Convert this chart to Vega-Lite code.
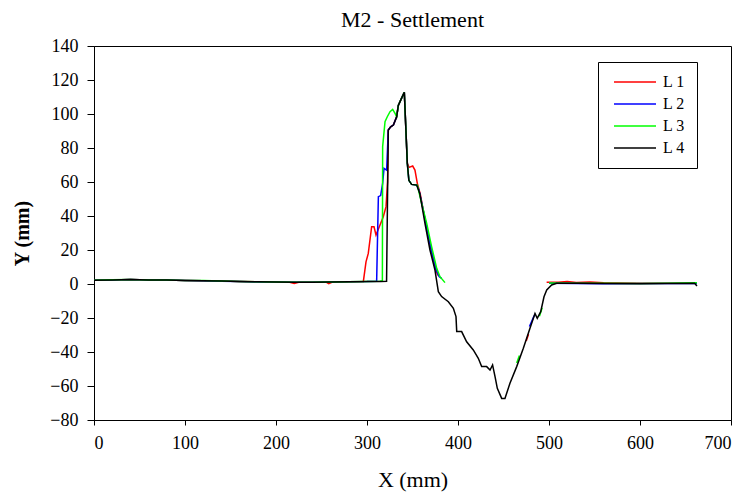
{
  "$schema": "https://vega.github.io/schema/vega-lite/v6.json",
  "autosize": "none",
  "width": 637,
  "height": 374,
  "padding": {"left": 94, "top": 46, "right": 17, "bottom": 73},
  "background": "white",
  "title": {"text": "M2 - Settlement", "font": "Liberation Serif", "fontSize": 22, "fontWeight": "normal", "color": "black", "anchor": "middle", "offset": 5},
  "config": {
    "view": {"stroke": "black", "strokeWidth": 1},
    "axis": {"labelFont": "Liberation Serif", "labelFontSize": 18, "labelColor": "black", "titleFont": "Liberation Serif", "titleColor": "black", "domainColor": "black", "tickColor": "black", "grid": false},
    "legend": {"labelFont": "Liberation Serif", "labelFontSize": 16, "labelColor": "black"}
  },
  "data": {"values": [
    {"s":"L 1","g":"L1a","x":0,"y":2.2},{"s":"L 1","g":"L1a","x":20,"y":2.4},{"s":"L 1","g":"L1a","x":40,"y":2.6},{"s":"L 1","g":"L1a","x":60,"y":2.4},{"s":"L 1","g":"L1a","x":80,"y":2.3},{"s":"L 1","g":"L1a","x":100,"y":2.1},{"s":"L 1","g":"L1a","x":120,"y":1.9},{"s":"L 1","g":"L1a","x":140,"y":1.7},{"s":"L 1","g":"L1a","x":160,"y":1.5},{"s":"L 1","g":"L1a","x":180,"y":1.3},{"s":"L 1","g":"L1a","x":200,"y":1.2},{"s":"L 1","g":"L1a","x":215,"y":1.0},{"s":"L 1","g":"L1a","x":220,"y":0.3},{"s":"L 1","g":"L1a","x":225,"y":1.0},{"s":"L 1","g":"L1a","x":240,"y":1.1},{"s":"L 1","g":"L1a","x":255,"y":1.1},{"s":"L 1","g":"L1a","x":258,"y":0.2},{"s":"L 1","g":"L1a","x":262,"y":1.1},{"s":"L 1","g":"L1a","x":280,"y":1.3},{"s":"L 1","g":"L1a","x":296,"y":1.5},{"s":"L 1","g":"L1a","x":298.9,"y":13},{"s":"L 1","g":"L1a","x":301.4,"y":18},{"s":"L 1","g":"L1a","x":305.1,"y":33.7},{"s":"L 1","g":"L1a","x":307.7,"y":33.7},{"s":"L 1","g":"L1a","x":309.9,"y":28.8},{"s":"L 1","g":"L1a","x":314.3,"y":34.7},{"s":"L 1","g":"L1a","x":317.9,"y":39.6},{"s":"L 1","g":"L1a","x":320.9,"y":45.5},{"s":"L 1","g":"L1a","x":322.6,"y":60},{"s":"L 1","g":"L1a","x":323.4,"y":90.6},{"s":"L 1","g":"L1a","x":326,"y":92.5},{"s":"L 1","g":"L1a","x":329,"y":93.5},{"s":"L 1","g":"L1a","x":332.6,"y":98.4},{"s":"L 1","g":"L1a","x":334.4,"y":105},{"s":"L 1","g":"L1a","x":337.4,"y":108.6},{"s":"L 1","g":"L1a","x":341,"y":112.8},{"s":"L 1","g":"L1a","x":344.3,"y":71},{"s":"L 1","g":"L1a","x":346.2,"y":68.6},{"s":"L 1","g":"L1a","x":350.2,"y":69.4},{"s":"L 1","g":"L1a","x":352.7,"y":67},{"s":"L 1","g":"L1a","x":355.3,"y":59.2},{"s":"L 1","g":"L1a","x":358.5,"y":53},{"s":"L 1","g":"L1a","x":364.5,"y":35.7},{"s":"L 1","g":"L1a","x":370,"y":21},{"s":"L 1","g":"L1a","x":375.5,"y":8.5},{"s":"L 1","g":"L1a","x":378,"y":5},
    {"s":"L 1","g":"L1b","x":475,"y":-33.5},{"s":"L 1","g":"L1b","x":477.5,"y":-29.5},
    {"s":"L 1","g":"L1c","x":497.4,"y":1.0},{"s":"L 1","g":"L1c","x":510,"y":1.1},{"s":"L 1","g":"L1c","x":520,"y":1.4},{"s":"L 1","g":"L1c","x":530,"y":0.9},{"s":"L 1","g":"L1c","x":545,"y":1.2},{"s":"L 1","g":"L1c","x":560,"y":0.8},{"s":"L 1","g":"L1c","x":575,"y":0.6},{"s":"L 1","g":"L1c","x":600,"y":0.4},{"s":"L 1","g":"L1c","x":630,"y":0.4},{"s":"L 1","g":"L1c","x":662.6,"y":0.5},

    {"s":"L 2","g":"L2a","x":0,"y":2.2},{"s":"L 2","g":"L2a","x":20,"y":2.4},{"s":"L 2","g":"L2a","x":40,"y":2.6},{"s":"L 2","g":"L2a","x":60,"y":2.4},{"s":"L 2","g":"L2a","x":80,"y":2.3},{"s":"L 2","g":"L2a","x":100,"y":2.1},{"s":"L 2","g":"L2a","x":120,"y":1.9},{"s":"L 2","g":"L2a","x":140,"y":1.6},{"s":"L 2","g":"L2a","x":160,"y":1.5},{"s":"L 2","g":"L2a","x":180,"y":1.2},{"s":"L 2","g":"L2a","x":200,"y":1.2},{"s":"L 2","g":"L2a","x":220,"y":1.0},{"s":"L 2","g":"L2a","x":240,"y":1.1},{"s":"L 2","g":"L2a","x":260,"y":1.2},{"s":"L 2","g":"L2a","x":280,"y":1.3},{"s":"L 2","g":"L2a","x":300,"y":1.4},{"s":"L 2","g":"L2a","x":310.6,"y":1.6},{"s":"L 2","g":"L2a","x":312.5,"y":51.4},{"s":"L 2","g":"L2a","x":315,"y":52},{"s":"L 2","g":"L2a","x":317.2,"y":59.2},{"s":"L 2","g":"L2a","x":318.7,"y":68},{"s":"L 2","g":"L2a","x":321.6,"y":67},{"s":"L 2","g":"L2a","x":323.4,"y":90.6},{"s":"L 2","g":"L2a","x":326,"y":92.5},{"s":"L 2","g":"L2a","x":329,"y":93.5},{"s":"L 2","g":"L2a","x":332.6,"y":98.4},{"s":"L 2","g":"L2a","x":334.4,"y":105},{"s":"L 2","g":"L2a","x":337.4,"y":108.6},{"s":"L 2","g":"L2a","x":341,"y":112.8},{"s":"L 2","g":"L2a","x":344.3,"y":71},{"s":"L 2","g":"L2a","x":346,"y":61},{"s":"L 2","g":"L2a","x":349,"y":58.6},{"s":"L 2","g":"L2a","x":354.6,"y":58.2},{"s":"L 2","g":"L2a","x":357,"y":55.5},{"s":"L 2","g":"L2a","x":359.5,"y":49.5},{"s":"L 2","g":"L2a","x":364.8,"y":35.7},{"s":"L 2","g":"L2a","x":370.2,"y":21},{"s":"L 2","g":"L2a","x":375.8,"y":8.6},{"s":"L 2","g":"L2a","x":379.2,"y":4.4},{"s":"L 2","g":"L2a","x":382,"y":3.3},
    {"s":"L 2","g":"L2b","x":478.5,"y":-25},{"s":"L 2","g":"L2b","x":481,"y":-22},{"s":"L 2","g":"L2b","x":483,"y":-19.5},{"s":"L 2","g":"L2b","x":485,"y":-17.5},
    {"s":"L 2","g":"L2c","x":500,"y":0.5},{"s":"L 2","g":"L2c","x":530,"y":0.3},{"s":"L 2","g":"L2c","x":560,"y":0.2},{"s":"L 2","g":"L2c","x":600,"y":0.3},{"s":"L 2","g":"L2c","x":662.6,"y":0.3},

    {"s":"L 3","g":"L3a","x":0,"y":2.2},{"s":"L 3","g":"L3a","x":20,"y":2.5},{"s":"L 3","g":"L3a","x":40,"y":2.6},{"s":"L 3","g":"L3a","x":60,"y":2.4},{"s":"L 3","g":"L3a","x":80,"y":2.3},{"s":"L 3","g":"L3a","x":100,"y":2.1},{"s":"L 3","g":"L3a","x":120,"y":2.0},{"s":"L 3","g":"L3a","x":140,"y":1.7},{"s":"L 3","g":"L3a","x":160,"y":1.5},{"s":"L 3","g":"L3a","x":180,"y":1.3},{"s":"L 3","g":"L3a","x":200,"y":1.2},{"s":"L 3","g":"L3a","x":220,"y":1.0},{"s":"L 3","g":"L3a","x":240,"y":1.1},{"s":"L 3","g":"L3a","x":260,"y":1.2},{"s":"L 3","g":"L3a","x":280,"y":1.3},{"s":"L 3","g":"L3a","x":300,"y":1.4},{"s":"L 3","g":"L3a","x":314.3,"y":1.6},{"s":"L 3","g":"L3a","x":316.9,"y":2},{"s":"L 3","g":"L3a","x":317.2,"y":80.8},{"s":"L 3","g":"L3a","x":319.8,"y":95.5},{"s":"L 3","g":"L3a","x":322.3,"y":98.4},{"s":"L 3","g":"L3a","x":325.3,"y":101.4},{"s":"L 3","g":"L3a","x":328.2,"y":102.7},{"s":"L 3","g":"L3a","x":330.8,"y":100.4},{"s":"L 3","g":"L3a","x":332.6,"y":98.4},{"s":"L 3","g":"L3a","x":334.4,"y":105},{"s":"L 3","g":"L3a","x":337.4,"y":108.6},{"s":"L 3","g":"L3a","x":341,"y":112.8},{"s":"L 3","g":"L3a","x":344.3,"y":71},{"s":"L 3","g":"L3a","x":346,"y":61},{"s":"L 3","g":"L3a","x":349,"y":58.6},{"s":"L 3","g":"L3a","x":355.3,"y":58.2},{"s":"L 3","g":"L3a","x":360,"y":47.5},{"s":"L 3","g":"L3a","x":365.6,"y":35.7},{"s":"L 3","g":"L3a","x":371,"y":22},{"s":"L 3","g":"L3a","x":376.6,"y":9.2},{"s":"L 3","g":"L3a","x":380.2,"y":4.3},{"s":"L 3","g":"L3a","x":385.7,"y":0.8},
    {"s":"L 3","g":"L3b","x":464.5,"y":-46.5},{"s":"L 3","g":"L3b","x":467.5,"y":-42},
    {"s":"L 3","g":"L3c","x":489.5,"y":-19},{"s":"L 3","g":"L3c","x":492.5,"y":-14},
    {"s":"L 3","g":"L3d","x":500,"y":0.6},{"s":"L 3","g":"L3d","x":530,"y":0.5},{"s":"L 3","g":"L3d","x":560,"y":0.4},{"s":"L 3","g":"L3d","x":600,"y":0.3},{"s":"L 3","g":"L3d","x":630,"y":0.4},{"s":"L 3","g":"L3d","x":662.6,"y":0.8},

    {"s":"L 4","g":"L4a","x":0,"y":2.2},{"s":"L 4","g":"L4a","x":20,"y":2.4},{"s":"L 4","g":"L4a","x":40,"y":2.6},{"s":"L 4","g":"L4a","x":60,"y":2.4},{"s":"L 4","g":"L4a","x":80,"y":2.3},{"s":"L 4","g":"L4a","x":100,"y":2.1},{"s":"L 4","g":"L4a","x":120,"y":1.9},{"s":"L 4","g":"L4a","x":140,"y":1.7},{"s":"L 4","g":"L4a","x":160,"y":1.5},{"s":"L 4","g":"L4a","x":180,"y":1.3},{"s":"L 4","g":"L4a","x":200,"y":1.2},{"s":"L 4","g":"L4a","x":220,"y":1.0},{"s":"L 4","g":"L4a","x":240,"y":1.1},{"s":"L 4","g":"L4a","x":260,"y":1.2},{"s":"L 4","g":"L4a","x":280,"y":1.3},{"s":"L 4","g":"L4a","x":300,"y":1.4},{"s":"L 4","g":"L4a","x":315,"y":1.5},{"s":"L 4","g":"L4a","x":321.5,"y":1.6},{"s":"L 4","g":"L4a","x":323.4,"y":90.6},{"s":"L 4","g":"L4a","x":326,"y":92.5},{"s":"L 4","g":"L4a","x":329,"y":93.5},{"s":"L 4","g":"L4a","x":332.6,"y":98.4},{"s":"L 4","g":"L4a","x":334.4,"y":105},{"s":"L 4","g":"L4a","x":337.4,"y":108.6},{"s":"L 4","g":"L4a","x":341,"y":112.8},{"s":"L 4","g":"L4a","x":344.3,"y":71},{"s":"L 4","g":"L4a","x":346,"y":61},{"s":"L 4","g":"L4a","x":349,"y":58.6},{"s":"L 4","g":"L4a","x":354.6,"y":58.2},{"s":"L 4","g":"L4a","x":358,"y":53.3},{"s":"L 4","g":"L4a","x":363.7,"y":35.7},{"s":"L 4","g":"L4a","x":369.2,"y":20},{"s":"L 4","g":"L4a","x":374.7,"y":8.2},{"s":"L 4","g":"L4a","x":378.4,"y":-4.5},{"s":"L 4","g":"L4a","x":382,"y":-7.4},{"s":"L 4","g":"L4a","x":389.4,"y":-10.4},{"s":"L 4","g":"L4a","x":394.9,"y":-14.3},{"s":"L 4","g":"L4a","x":397.8,"y":-19.2},{"s":"L 4","g":"L4a","x":398.6,"y":-28},{"s":"L 4","g":"L4a","x":404,"y":-28},{"s":"L 4","g":"L4a","x":409.5,"y":-34},{"s":"L 4","g":"L4a","x":416.8,"y":-38.8},{"s":"L 4","g":"L4a","x":422.3,"y":-43.7},{"s":"L 4","g":"L4a","x":426,"y":-48.6},{"s":"L 4","g":"L4a","x":431.5,"y":-48.6},{"s":"L 4","g":"L4a","x":435.2,"y":-50.6},{"s":"L 4","g":"L4a","x":438,"y":-47.6},{"s":"L 4","g":"L4a","x":440.7,"y":-54.5},{"s":"L 4","g":"L4a","x":443.2,"y":-61.4},{"s":"L 4","g":"L4a","x":448,"y":-67.3},{"s":"L 4","g":"L4a","x":451.6,"y":-67.3},{"s":"L 4","g":"L4a","x":457.1,"y":-58.4},{"s":"L 4","g":"L4a","x":464.5,"y":-48.6},{"s":"L 4","g":"L4a","x":471.8,"y":-37.8},{"s":"L 4","g":"L4a","x":479.1,"y":-26},{"s":"L 4","g":"L4a","x":484.6,"y":-17.3},{"s":"L 4","g":"L4a","x":487.1,"y":-20.2},{"s":"L 4","g":"L4a","x":490.9,"y":-16.3},{"s":"L 4","g":"L4a","x":494.5,"y":-7.5},{"s":"L 4","g":"L4a","x":497.5,"y":-3.5},{"s":"L 4","g":"L4a","x":502.9,"y":-0.6},{"s":"L 4","g":"L4a","x":508.4,"y":0.4},{"s":"L 4","g":"L4a","x":530,"y":0.4},{"s":"L 4","g":"L4a","x":560,"y":0.3},{"s":"L 4","g":"L4a","x":600,"y":0.2},{"s":"L 4","g":"L4a","x":630,"y":0.3},{"s":"L 4","g":"L4a","x":660,"y":0.4},{"s":"L 4","g":"L4a","x":662.6,"y":-1.2}
  ]},
  "encoding": {
    "x": {"field": "x", "type": "quantitative",
      "scale": {"domain": [0, 700], "nice": false, "zero": false},
      "axis": {"values": [0,100,200,300,400,500,600,700], "labelFont": "Liberation Serif", "labelFontSize": 18, "tickSize": 5, "labelPadding": 9, "title": "X (mm)", "titleFont": "Liberation Serif", "titleFontSize": 22, "titleFontWeight": "normal", "titleX": 318.5, "titleY": 66, "titleBaseline": "alphabetic", "titleAlign": "center"}},
    "y": {"field": "y", "type": "quantitative",
      "scale": {"domain": [-80, 140], "nice": false, "zero": false},
      "axis": {"values": [-80,-60,-40,-20,0,20,40,60,80,100,120,140], "labelFont": "Liberation Serif", "labelFontSize": 18, "tickSize": 7, "labelPadding": 9, "title": "Y (mm)", "titleFont": "Liberation Serif", "titleFontSize": 20, "titleFontWeight": "bold", "titleAngle": -90, "titleX": -66, "titleY": 187, "titleBaseline": "alphabetic", "titleAlign": "center"}},
    "color": {"field": "s", "type": "nominal",
      "scale": {"domain": ["L 1","L 2","L 3","L 4"], "range": ["#ff0000","#0000ff","#00ff00","#000000"]},
      "legend": {"title": null, "orient": "none", "legendX": 504, "legendY": 16, "padding": 12, "strokeColor": "black", "fillColor": "white", "symbolType": "M-0.57,0H5.43", "symbolSize": 196, "symbolStrokeWidth": 1.5, "labelOffset": 37, "rowPadding": 6}},
    "detail": {"field": "g", "type": "nominal"}
  },
  "layer": [
    {"transform": [{"filter": "datum.s != 'L 4'"}], "mark": {"type": "line", "strokeWidth": 1.5}},
    {"transform": [{"filter": "datum.s == 'L 4'"}], "mark": {"type": "line", "strokeWidth": 1.5}}
  ]
}
